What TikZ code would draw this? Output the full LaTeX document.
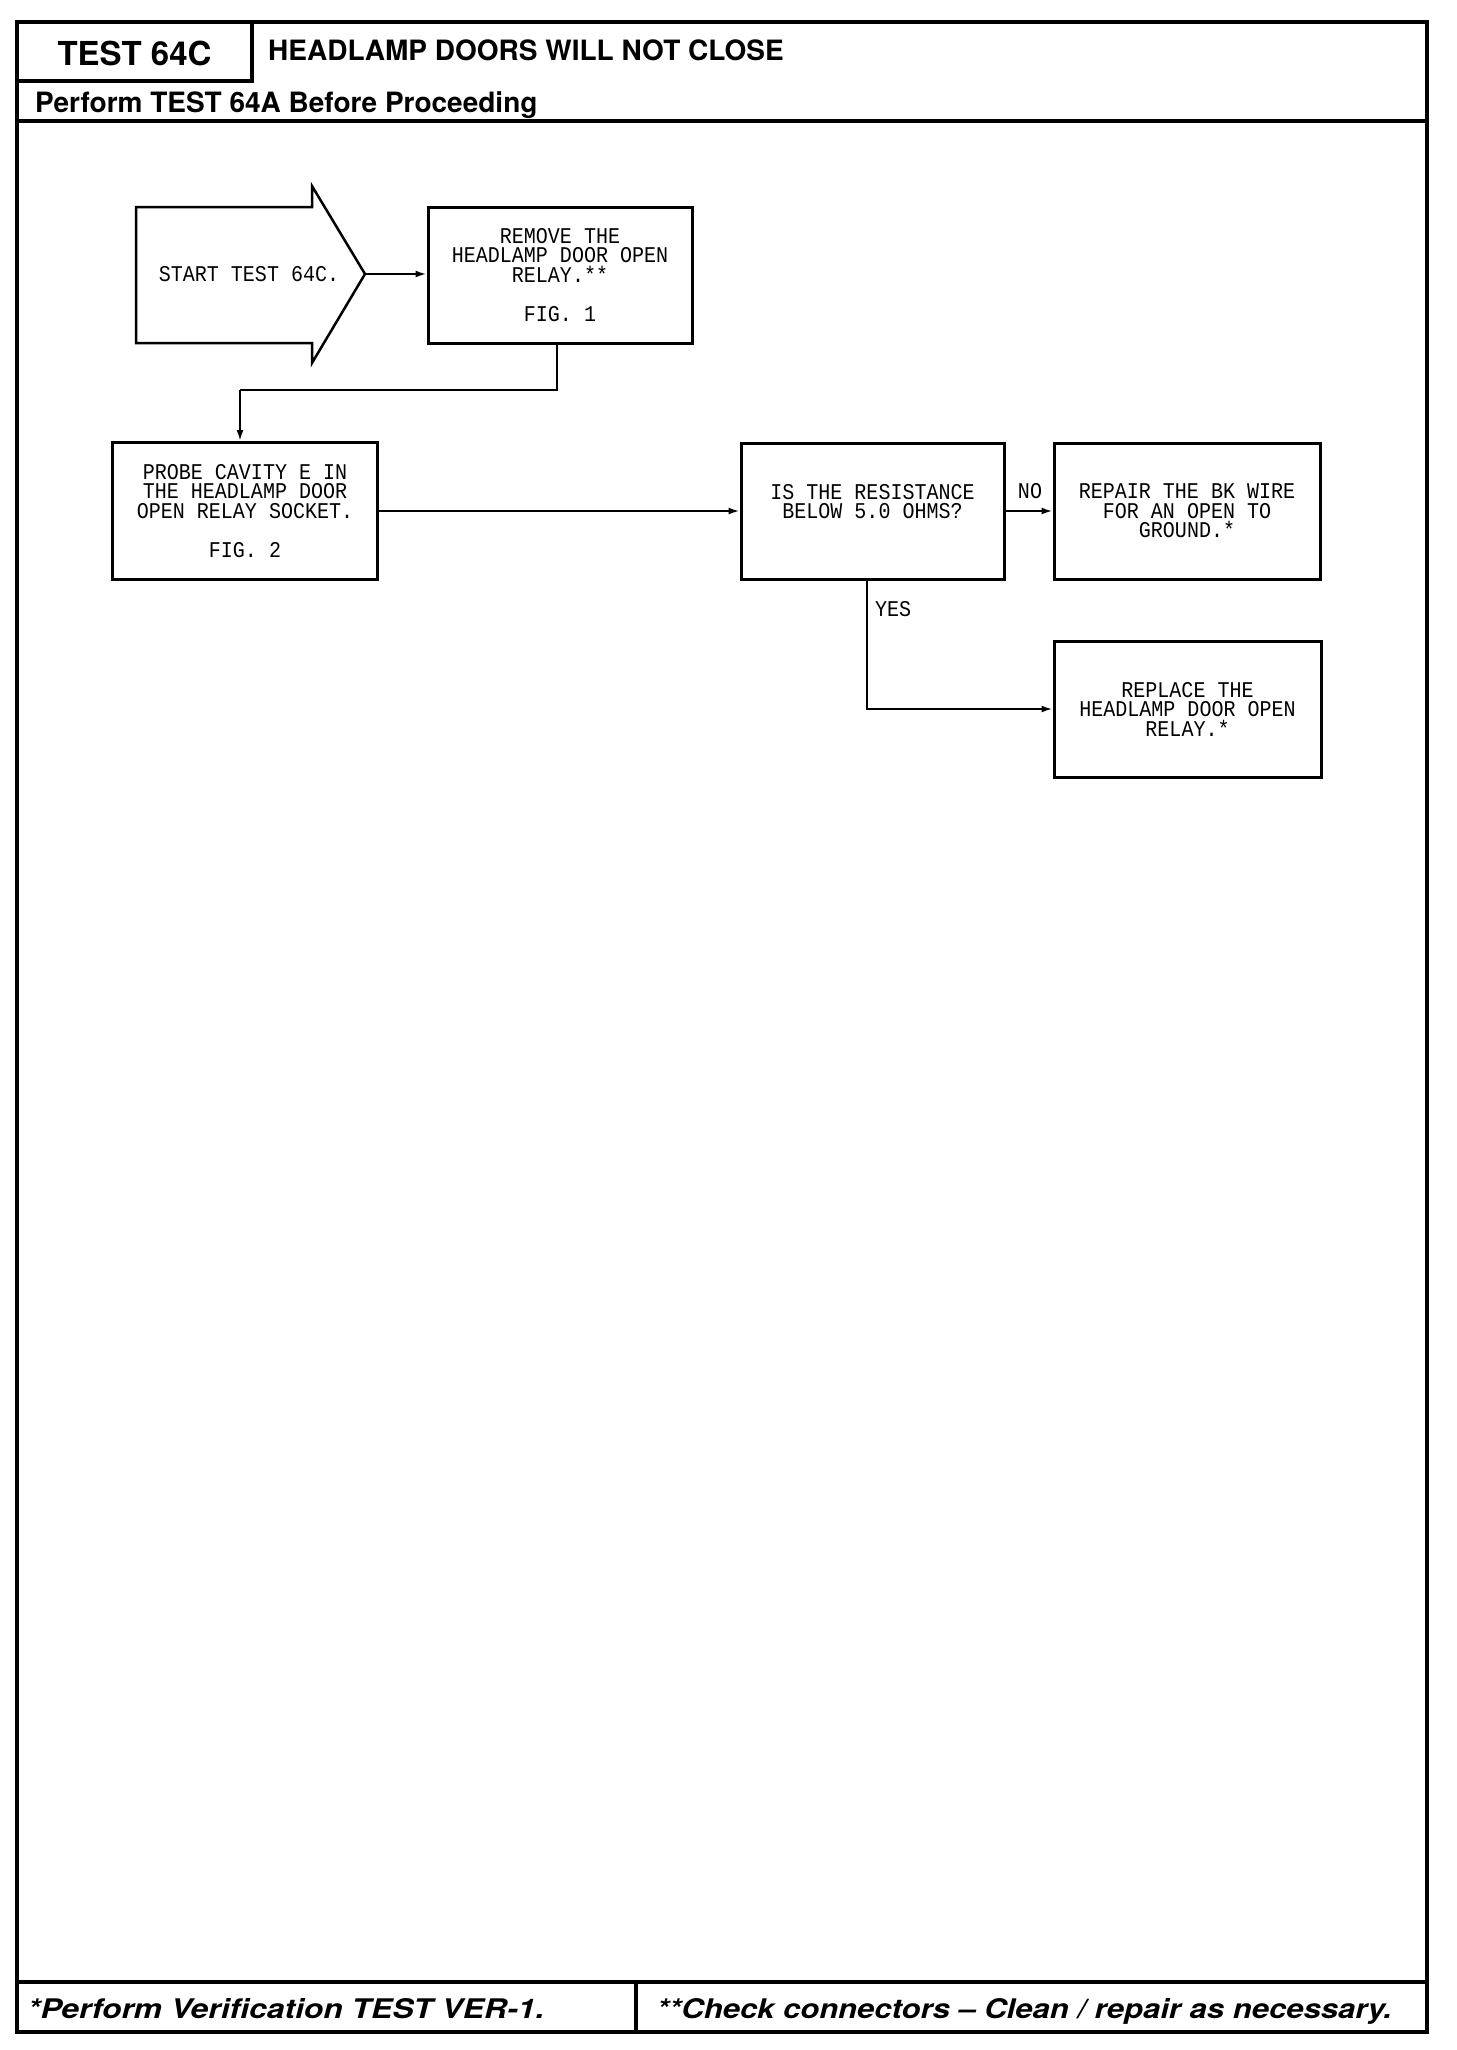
\documentclass[tikz,border=0pt]{standalone}
\usepackage{fontspec}
\setmainfont{TeX Gyre Heros}
\newfontfamily\boxfont[FakeStretch=0.89]{Liberation Mono}
\newfontfamily\footfont[FakeStretch=1.18]{TeX Gyre Heros}
\newfontfamily\footfontb[FakeStretch=1.15]{TeX Gyre Heros}
\usetikzlibrary{arrows.meta}
\tikzset{
  frameline/.style={line width=4pt, line cap=rect},
  fbox/.style={draw, line width=3pt, inner sep=0pt, align=center,
    font=\boxfont\fontsize{22.5}{19.5}\selectfont},
  conn/.style={line width=2pt, -{Latex[length=11pt,width=7pt]}},
  plain/.style={line width=2pt},
  lbl/.style={inner sep=0pt, font=\boxfont\fontsize{22.5}{19.5}\selectfont},
  head/.style={inner sep=0pt, font=\bfseries\fontsize{28}{32}\selectfont},
  foot/.style={inner sep=0pt, font=\footfont\bfseries\itshape\fontsize{27}{30}\selectfont},
  footb/.style={inner sep=0pt, font=\footfontb\bfseries\itshape\fontsize{27}{30}\selectfont},
}
\begin{document}
\begin{tikzpicture}[x=1pt,y=-1pt]
\useasboundingbox (0,0) rectangle (1456,2050);
% frame
\draw[frameline] (17,22) rectangle (1427,2032);
\draw[frameline] (17,121) -- (1427,121);
\draw[frameline] (252,22) -- (252,81) -- (17,81);
\draw[frameline] (17,1982) -- (1427,1982);
\draw[frameline] (636,1982) -- (636,2032);
% header texts
\node[inner sep=0pt, font=\bfseries\fontsize{33}{38}\selectfont] (tnum) at (134.5,53) {TEST 64C};
\node[head, anchor=west] (ttitle) at (268,50) {HEADLAMP DOORS WILL NOT CLOSE};
\node[head, anchor=base west] (tpre) at (35,112) {Perform TEST 64A Before Proceeding};
% footer texts
\node[foot, anchor=base west] (fleft) at (28,2018) {*Perform Verification TEST VER-1.};
\node[footb, anchor=base west] (fright) at (657,2018) {**Check connectors – Clean / repair as necessary.};
% start arrow
\draw[line width=2.5pt, line join=miter] (312,207) -- (136,207) -- (136,343) -- (312,343)
  -- (312,363) -- (365,274) -- (312,186) -- cycle;
\coordinate (starttip) at (365,274);
\node[lbl] (start) at (249,274) {START TEST 64C.};
% boxes
\node[fbox, minimum width=264pt, minimum height=136pt] (remove) at (560,275)
  {REMOVE THE\\HEADLAMP DOOR OPEN\\RELAY.**\\\mbox{}\\FIG. 1};
\node[fbox, minimum width=265pt, minimum height=137pt] (probe) at (245,511)
  {PROBE CAVITY E IN\\THE HEADLAMP DOOR\\OPEN RELAY SOCKET.\\\mbox{}\\FIG. 2};
\node[fbox, minimum width=263pt, minimum height=136pt] (decision) at (872.5,511)
  {IS THE RESISTANCE\\BELOW 5.0 OHMS?\\\mbox{}};
\node[fbox, minimum width=266pt, minimum height=136pt] (repair) at (1187,511)
  {REPAIR THE BK WIRE\\FOR AN OPEN TO\\GROUND.*};
\node[fbox, minimum width=267pt, minimum height=136pt] (replace) at (1187.5,709)
  {REPLACE THE\\HEADLAMP DOOR OPEN\\RELAY.*};
% connectors
\draw[conn] (starttip) -- (starttip -| remove.west);
\coordinate (j1) at (240,390);
\draw[plain] ([xshift=-3pt]remove.south) |- (j1);
\draw[conn] (j1) -- (j1 |- probe.north);
\draw[conn] (probe.east) -- (decision.west);
\draw[conn] (decision.east) -- (repair.west);
\draw[conn] ([xshift=-6pt]decision.south) |- (replace.west);
% labels
\node[lbl] (no) at (1030,491) {NO};
\node[lbl, anchor=west] (yes) at (875,609) {YES};
\end{tikzpicture}
\end{document}
